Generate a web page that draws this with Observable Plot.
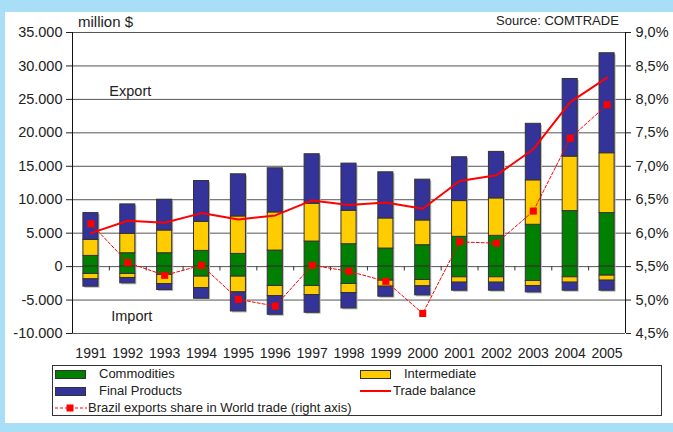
<!DOCTYPE html>
<html>
<head>
<meta charset="utf-8">
<script src="https://cdn.jsdelivr.net/npm/d3@7"></script>
<script src="https://cdn.jsdelivr.net/npm/@observablehq/plot@0.6"></script>
<style>
  html, body { margin: 0; padding: 0; }
  body { width: 673px; height: 432px; overflow: hidden; background: #a8dff7; position: relative;
         font-family: "Liberation Sans", Arial, sans-serif; color: #222; }
  #panel { position: absolute; left: 5px; top: 12px; width: 668px; height: 411px; background: #fff; }
  #chart { position: absolute; left: 0; top: 0; }
  .t { position: absolute; white-space: nowrap; line-height: 16px; }
  .sw { position: absolute; width: 29px; height: 7px; border: 1px solid #333; }
  #legend { position: absolute; left: 52px; top: 365px; width: 610px; height: 51px; border: 1px solid #333; box-sizing: border-box; }
</style>
</head>
<body>
<div id="panel"></div>
<div id="chart"></div>
<div class="t" style="left:78px;top:14px;font-size:15px;">million $</div>
<div class="t" style="left:496px;top:13px;font-size:13px;">Source: COMTRADE</div>
<div id="legend"></div>
<div class="sw" style="left:55px;top:370px;background:#008000;"></div>
<div class="t" style="left:99px;top:366px;font-size:13px;">Commodities</div>
<div class="sw" style="left:55px;top:387px;background:#333399;"></div>
<div class="t" style="left:99px;top:383px;font-size:13px;">Final Products</div>
<svg style="position:absolute;left:54px;top:402px;" width="34" height="12">
  <line x1="1" y1="6" x2="33" y2="6" stroke="#ff0000" stroke-width="1" stroke-dasharray="3,2"/>
  <rect x="12.5" y="2.5" width="7" height="7" fill="#ff0000"/>
</svg>
<div class="t" style="left:88px;top:400px;font-size:13px;">Brazil exports share in World trade (right axis)</div>
<div class="sw" style="left:360px;top:370px;background:#ffcc00;"></div>
<div class="t" style="left:404px;top:366px;font-size:13px;">Intermediate</div>
<svg style="position:absolute;left:360px;top:386px;" width="32" height="10">
  <line x1="0" y1="5" x2="31" y2="5" stroke="#ff0000" stroke-width="2"/>
</svg>
<div class="t" style="left:393px;top:383px;font-size:13px;">Trade balance</div>

<script>
// ---- data (million $) ----
const years = [1991, 1992, 1993, 1994, 1995, 1996, 1997, 1998, 1999, 2000, 2001, 2002, 2003, 2004, 2005];
const categories = ["Commodities", "Intermediate", "Final Products"];
const categoryColors = ["#008000", "#ffcc00", "#333399"];

const exportCommodities   = [1600, 2000, 2000, 2350, 1900, 2400, 3750, 3350, 2700, 3200, 4450, 4600, 6250, 8300, 8000];
const exportIntermediate  = [2400, 2900, 3400, 4350, 5600, 5700, 5650, 5000, 4500, 3700, 5350, 5600, 6650, 8150, 8950];
const exportFinal         = [4000, 4400, 4600, 6100, 6300, 6600, 7400, 7050, 6900, 6100, 6550, 6950, 8450, 11600, 14950];

const importCommodities   = [-1100, -1100, -1250, -1500, -1500, -2900, -2900, -2600, -2100, -2000, -1600, -1600, -2150, -1600, -1350];
const importIntermediate  = [-800, -600, -1350, -1700, -2350, -1500, -1350, -1350, -900, -950, -800, -800, -750, -800, -750];
const importFinal         = [-1100, -800, -900, -1600, -2850, -2800, -2650, -2300, -1500, -1350, -1200, -1200, -950, -1200, -1500];

const tradeBalance = [5000, 6850, 6550, 8000, 7050, 7650, 9900, 9200, 9600, 8650, 12800, 13650, 17550, 24600, 28250];
const worldShare   = [6.14, 5.56, 5.37, 5.52, 5.01, 4.91, 5.52, 5.43, 5.28, 4.80, 5.87, 5.85, 6.33, 7.42, 7.92]; // % (right axis)

const leftTicks  = [-10000, -5000, 0, 5000, 10000, 15000, 20000, 25000, 30000, 35000];
const rightTicks = [4.5, 5.0, 5.5, 6.0, 6.5, 7.0, 7.5, 8.0, 8.5, 9.0];

// ---- derived tables ----
const leftDomain = [-10000, 35000];
const rightDomain = [4.5, 9.0];
const toLeft = s => leftDomain[0] + (s - rightDomain[0]) / (rightDomain[1] - rightDomain[0]) * (leftDomain[1] - leftDomain[0]);
const fromLeft = v => rightDomain[0] + (v - leftDomain[0]) / (leftDomain[1] - leftDomain[0]) * (rightDomain[1] - rightDomain[0]);

const series = [
  [categories[0], exportCommodities], [categories[1], exportIntermediate], [categories[2], exportFinal],
  [categories[0], importCommodities], [categories[1], importIntermediate], [categories[2], importFinal]
];
const bars = [];
for (const [category, vals] of series) vals.forEach((v, i) => bars.push({year: years[i], category, value: v}));
const lineRows = years.map((year, i) => ({year, balance: tradeBalance[i], share: worldShare[i]}));

const xDomain = [years[0] - 0.5, years[years.length - 1] + 0.5];
const loc = d3.formatLocale({decimal: ",", thousands: ".", grouping: [3], currency: ["", "$"], minus: "-"});
const fmtLeft = loc.format(",");
const fmtRight = v => d3.format(".1f")(fromLeft(v)).replace(".", ",") + "%";
const font = "'Liberation Sans', Arial, sans-serif";

const chart = Plot.plot({
  width: 673,
  height: 365,
  marginLeft: 72,
  marginRight: 48,
  marginTop: 32,
  marginBottom: 32,
  style: {fontFamily: font, fontSize: "14px", color: "#222", background: "transparent", overflow: "visible"},
  x: {type: "linear", domain: xDomain, axis: null},
  y: {domain: leftDomain, axis: null},
  color: {domain: categories, range: categoryColors},
  marks: [
    Plot.ruleY(leftTicks, {stroke: "#555", strokeWidth: 1}),
    // soft shadow
    Plot.rectY(bars, {x1: d => d.year - 0.5, x2: d => d.year + 0.5, y: "value", fill: "#b5b5b5",
      insetLeft: 10.9, insetRight: 10.9, dx: 1.5, dy: 1.5}),
    Plot.rectY(bars, {x1: d => d.year - 0.5, x2: d => d.year + 0.5, y: "value", fill: "category",
      stroke: "#333", strokeWidth: 1, insetLeft: 10.9, insetRight: 10.9}),
    Plot.ruleX(years.slice(0, -1).map(y => y + 0.5), {y1: 0, y2: -650, stroke: "#333"}),
    Plot.ruleX(xDomain, {stroke: "#111", strokeWidth: 1}),
    Plot.axisY(leftTicks, {anchor: "left", tickSize: 6, tickPadding: 4, tickFormat: fmtLeft, label: null, fontSize: 14.5}),
    Plot.axisY(rightTicks.map(toLeft), {anchor: "right", tickSize: 5, tickPadding: 5, tickFormat: fmtRight, label: null, fontSize: 14.5}),
    Plot.axisX(years, {anchor: "bottom", tickSize: 0, tickPadding: 15, tickFormat: d => String(d), label: null, fontSize: 14}),
    Plot.line(lineRows, {x: "year", y: "balance", stroke: "#ff0000", strokeWidth: 2}),
    Plot.line(lineRows, {x: "year", y: d => toLeft(d.share), stroke: "#ff0000", strokeWidth: 1, strokeDasharray: "3,2"}),
    Plot.dot(lineRows, {x: "year", y: d => toLeft(d.share), symbol: "square", r: 4, fill: "#ff0000", stroke: "none"}),
    Plot.text(["Export"], {x: () => 1991.5, y: () => 26200, textAnchor: "start", fontSize: 14.5, fill: "#222"}),
    Plot.text(["Import"], {x: () => 1991.55, y: () => -7500, textAnchor: "start", fontSize: 14.5, fill: "#222"})
  ]
});
document.getElementById("chart").appendChild(chart);
</script>
</body>
</html>
